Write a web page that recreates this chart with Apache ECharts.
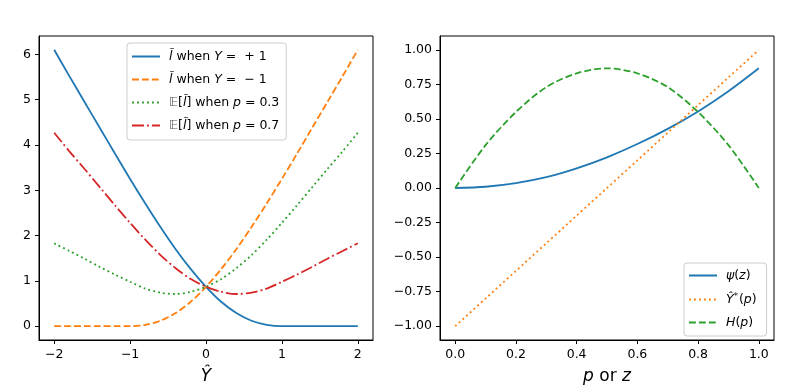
<!DOCTYPE html>
<html>
<head>
<meta charset="utf-8">
<script src="https://cdn.jsdelivr.net/npm/echarts@6/dist/echarts.min.js"></script>
<style>
  html, body { margin: 0; padding: 0; background: #fff; }
  #main { width: 811px; height: 390px; }
</style>
</head>
<body>
<div id="main"></div>
<script>
// left panel: loss against the prediction Y-hat
const yHat = [-2, -1.8, -1.6, -1.4, -1.2, -1, -0.8, -0.6, -0.4, -0.2, 0,
  0.2, 0.4, 0.6, 0.8, 1, 1.2, 1.4, 1.6, 1.8, 2];
const lossPos = [6.10, 5.52, 4.95, 4.38, 3.81, 3.25, 2.71, 2.19, 1.70, 1.26, 0.87,
  0.54, 0.29, 0.12, 0.03, 0.00, 0, 0, 0, 0, 0];
const lossNeg = [0, 0, 0, 0, 0, 0.00, 0.03, 0.12, 0.29, 0.54, 0.87,
  1.26, 1.70, 2.19, 2.71, 3.25, 3.81, 4.38, 4.95, 5.52, 6.10];
const expP03 = [1.83, 1.66, 1.49, 1.31, 1.14, 0.98, 0.83, 0.74, 0.71, 0.76, 0.87,
  1.04, 1.28, 1.57, 1.91, 2.28, 2.67, 3.07, 3.47, 3.86, 4.27];
const expP07 = [4.27, 3.86, 3.47, 3.07, 2.67, 2.28, 1.91, 1.57, 1.28, 1.04, 0.87,
  0.76, 0.71, 0.74, 0.83, 0.98, 1.14, 1.31, 1.49, 1.66, 1.83];
const leftXTicks = [-2, -1, 0, 1, 2];
const leftYTicks = [0, 1, 2, 3, 4, 5, 6];

// right panel: functions of p or z
const pz = [0, 0.1, 0.2, 0.3, 0.4, 0.5, 0.6, 0.7, 0.8, 0.9, 1];
const psi = [0, 0.009, 0.035, 0.078, 0.142, 0.222, 0.318, 0.428, 0.554, 0.700, 0.866];
const yStar = [-1, -0.8, -0.6, -0.4, -0.2, 0, 0.2, 0.4, 0.6, 0.8, 1];
const entropy = [0, 0.31, 0.55, 0.73, 0.83, 0.866, 0.83, 0.73, 0.55, 0.31, 0];
const rightXTicks = [0, 0.2, 0.4, 0.6, 0.8, 1];
const rightYTicks = [-1, -0.75, -0.5, -0.25, 0, 0.25, 0.5, 0.75, 1];

const FONT = 'DejaVu Sans';
const C = { blue: '#1f77b4', orange: '#ff7f0e', green: '#2ca02c', red: '#d62728' };
const LW = 1.8;

function pairs(xs, ys) {
  return xs.map((x, i) => [x, ys[i]]);
}
function minus(s) {
  return String(s).replace('-', '\u2212');
}

const mathRich = {
  t: { fontFamily: FONT, fontSize: 12.5, color: '#000', padding: [0, 0, 0, 4] },
  i: { fontFamily: FONT, fontStyle: 'italic', fontSize: 12.5, color: '#000' },
  bb: { fontFamily: FONT, fontSize: 12.5, color: '#555', padding: [0, 0, 0, 4] },
  sup: { fontFamily: FONT, fontStyle: 'italic', fontSize: 8.5, color: '#000', verticalAlign: 'top', padding: [0, 1, 6, 0] }
};

const legendText = {
  lossPos: '{t|}{i|l\u0303} when {i|Y} =  + 1',
  lossNeg: '{t|}{i|l\u0303} when {i|Y} =  \u2212 1',
  expP03: '{bb|\uD835\uDD3C}[{i|l\u0303}] when {i|p} = 0.3',
  expP07: '{bb|\uD835\uDD3C}[{i|l\u0303}] when {i|p} = 0.7',
  psi: '{t|}{i|\u03C8}({i|z})',
  yStar: '{t|}{i|\u0176}{sup|*}({i|p})',
  entropy: '{t|}{i|H}({i|p})'
};

function valueAxis(gridIndex, min, max, ticks, fmt, extra) {
  return Object.assign({
    type: 'value',
    gridIndex: gridIndex,
    min: min,
    max: max,
    splitLine: { show: false },
    axisLine: { show: true, onZero: false, lineStyle: { color: '#000', width: 1 } },
    axisTick: { show: true, length: 4, customValues: ticks, lineStyle: { color: '#000', width: 1 } },
    axisLabel: {
      customValues: ticks,
      formatter: fmt,
      fontFamily: FONT,
      fontSize: 12.5,
      color: '#000',
      margin: 8
    }
  }, extra || {});
}

function lineSeries(name, xAxisIndex, xs, ys, color, type) {
  return {
    name: name,
    type: 'line',
    xAxisIndex: xAxisIndex,
    yAxisIndex: xAxisIndex,
    data: pairs(xs, ys),
    symbol: 'none',
    smooth: 0.3,
    lineStyle: { color: color, width: LW, type: type, cap: 'butt' },
    itemStyle: { color: color },
    z: 3
  };
}

const chart = echarts.init(document.getElementById('main'), null, { renderer: 'canvas' });

const legendBase = {
  orient: 'vertical',
  itemWidth: 28,
  itemHeight: 14,
  itemGap: 10,
  backgroundColor: 'rgba(255,255,255,0.8)',
  borderColor: '#cccccc',
  borderWidth: 1,
  borderRadius: 3,
  selectedMode: false,
  itemStyle: { opacity: 0 },
  formatter: name => legendText[name],
  textStyle: { fontFamily: FONT, fontSize: 12.5, color: '#000', rich: mathRich }
};

chart.setOption({
  animation: false,
  backgroundColor: '#fff',
  grid: [
    { left: 39, top: 36, width: 334, height: 304, show: true, borderColor: '#000', borderWidth: 1, backgroundColor: 'transparent' },
    { left: 440, top: 36, width: 334, height: 304, show: true, borderColor: '#000', borderWidth: 1, backgroundColor: 'transparent' }
  ],
  legend: [
    Object.assign({}, legendBase, {
      data: ['lossPos', 'lossNeg', 'expP03', 'expP07'],
      left: 127, top: 43, padding: [7, 7, 8, 4]
    }),
    Object.assign({}, legendBase, {
      data: ['psi', 'yStar', 'entropy'],
      left: 684, top: 263, padding: [6, 10, 7, 4]
    })
  ],
  xAxis: [
    valueAxis(0, -2.2, 2.2, leftXTicks, v => minus(v), {
      name: '{i|\u0176}',
      nameLocation: 'middle',
      nameGap: 28,
      nameTextStyle: { rich: { i: { fontFamily: FONT, fontStyle: 'italic', fontSize: 17, color: '#000' } } }
    }),
    valueAxis(1, -0.05, 1.05, rightXTicks, v => v.toFixed(1), {
      name: '{i|p} or {i|z}',
      nameLocation: 'middle',
      nameGap: 28,
      nameTextStyle: {
        fontFamily: FONT, fontSize: 17, color: '#000',
        rich: { i: { fontFamily: FONT, fontStyle: 'italic', fontSize: 17, color: '#000' } }
      }
    })
  ],
  yAxis: [
    valueAxis(0, -0.305, 6.405, leftYTicks, v => minus(v)),
    valueAxis(1, -1.1, 1.1, rightYTicks, v => minus(v.toFixed(2)))
  ],
  series: [
    lineSeries('lossPos', 0, yHat, lossPos, C.blue, 'solid'),
    lineSeries('lossNeg', 0, yHat, lossNeg, C.orange, [6.9, 3]),
    lineSeries('expP03', 0, yHat, expP03, C.green, [1.9, 3.1]),
    lineSeries('expP07', 0, yHat, expP07, C.red, [12, 3, 1.9, 3]),
    lineSeries('psi', 1, pz, psi, C.blue, 'solid'),
    lineSeries('yStar', 1, pz, yStar, C.orange, [1.9, 3.1]),
    lineSeries('entropy', 1, pz, entropy, C.green, [6.9, 3])
  ]
});
</script>
</body>
</html>
